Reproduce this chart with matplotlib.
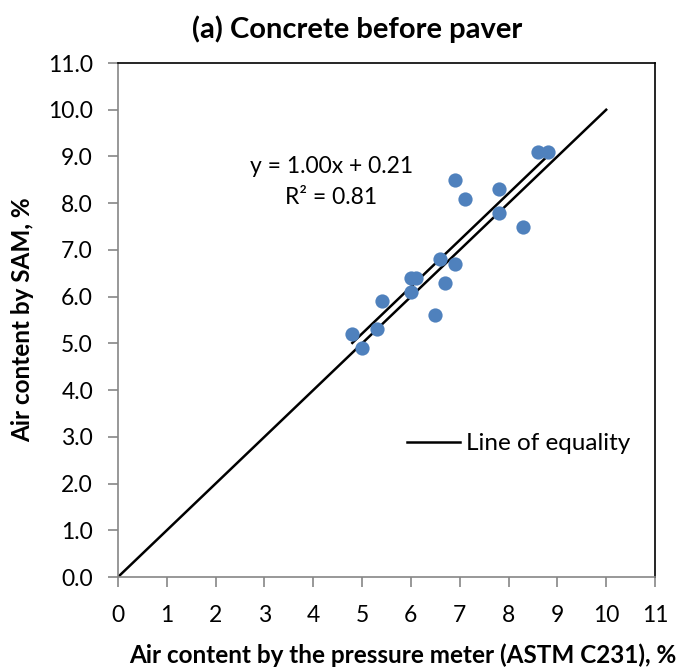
import matplotlib
matplotlib.use("Agg")
import matplotlib.pyplot as plt
import numpy as np

plt.rcParams['font.family'] = ['Lato', 'DejaVu Sans']

# Air content measurements (%)
pressure_meter = [8.6, 8.8, 6.9, 7.8, 7.1, 7.8, 8.3, 6.6, 6.9, 6.0, 6.1,
                  6.7, 6.0, 5.4, 6.5, 5.3, 4.8, 5.0]
sam = [9.1, 9.1, 8.5, 8.3, 8.1, 7.8, 7.5, 6.8, 6.7, 6.4, 6.4,
       6.3, 6.1, 5.9, 5.6, 5.3, 5.2, 4.9]

# Linear trend
slope = 1.00
intercept = 0.21
r_squared = 0.81

equality_x = [0, 10]
x_ticks = list(range(0, 12))
y_ticks = [float(v) for v in range(0, 12)]

fig = plt.figure(figsize=(6.84, 6.67), dpi=100)
ax = fig.add_axes([0.1725, 0.1349, 0.9576 - 0.1725, 0.9055 - 0.1349])

ax.scatter(pressure_meter, sam, s=105, color='#4F81BD', zorder=3, linewidths=0)

eq_line, = ax.plot(equality_x, equality_x, color='black', lw=1.8, zorder=2,
                   label='Line of equality')

x_fit = np.array([min(pressure_meter), max(pressure_meter)])
ax.plot(x_fit, slope * x_fit + intercept, color='black', lw=1.8, zorder=2)

ax.text(4.37, 8.46, f"y = {slope:.2f}x + {intercept:.2f}\nR² = {r_squared:.2f}",
        ha='center', va='center', fontsize=16.5, linespacing=1.6)

ax.set_xlim(0, 11)
ax.set_ylim(0, 11)
ax.set_xticks(x_ticks)
ax.set_xticklabels([str(v) for v in x_ticks])
ax.set_yticks(y_ticks)
ax.set_yticklabels([f"{v:.1f}" for v in y_ticks])
ax.tick_params(axis='both', direction='out', length=7, width=1.2, color='#868686',
               labelsize=16.5)
ax.tick_params(axis='y', pad=11)
ax.tick_params(axis='x', pad=13.5)

for side in ['left', 'bottom']:
    ax.spines[side].set_color('#868686')
    ax.spines[side].set_linewidth(1.2)
for side in ['top', 'right']:
    ax.spines[side].set_color('black')
    ax.spines[side].set_linewidth(1.2)

ax.set_title('(a) Concrete before paver', fontsize=21, fontweight='bold',
             pad=18, x=0.446)
ax.set_xlabel('Air content by the pressure meter (ASTM C231), %', fontsize=17.5,
              fontweight='bold', labelpad=12)
ax.xaxis.label.set_x(0.531)
ax.set_ylabel('Air content by SAM, %', fontsize=17.5, fontweight='bold', labelpad=10)

ax.legend(handles=[eq_line], loc='center left', bbox_to_anchor=(0.538, 0.259),
          frameon=False, fontsize=17.5, handlelength=2.2, handletextpad=0.25,
          borderaxespad=0, borderpad=0)

fig.savefig('out.png', dpi=100)
